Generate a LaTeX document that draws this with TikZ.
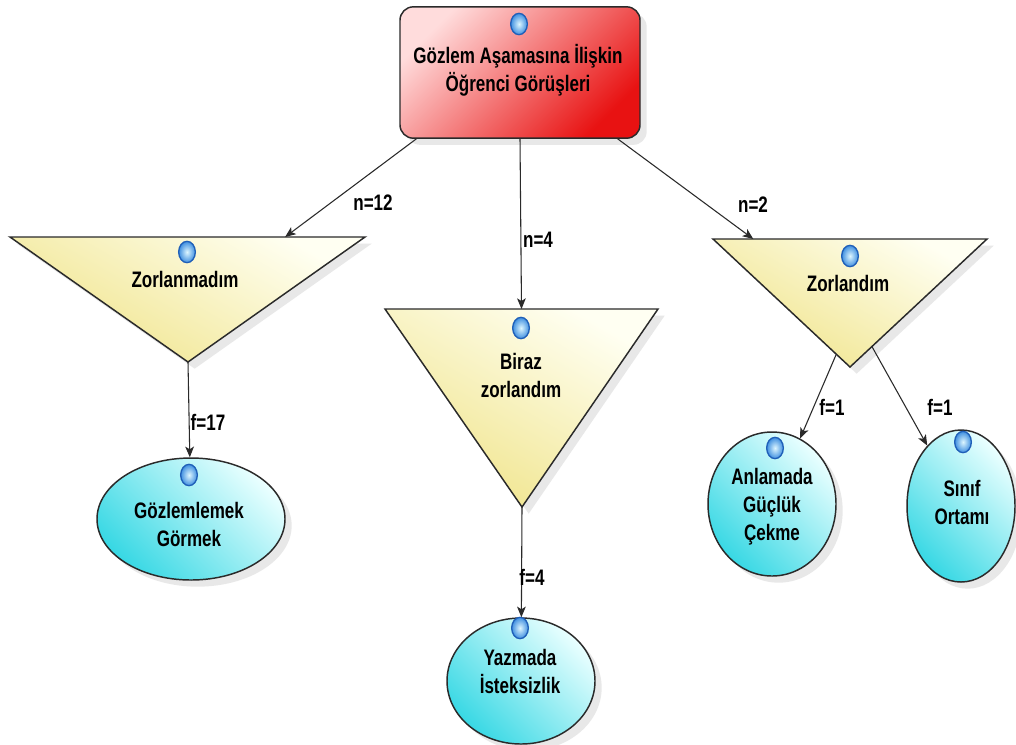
\documentclass[tikz,border=0pt]{standalone}
\usepackage{fontspec}
\setmainfont{Liberation Sans}[FakeStretch=0.76]
\usetikzlibrary{arrows.meta,shapes.geometric,shadows,calc}

\definecolor{boxlight}{HTML}{FFDCDC}
\definecolor{boxmid}{HTML}{F6A4A4}
\definecolor{boxdark}{HTML}{E81212}
\definecolor{trilight}{HTML}{FFFFF2}
\definecolor{tridark}{HTML}{F0E48A}
\definecolor{ovlight}{HTML}{EAFFFF}
\definecolor{ovdark}{HTML}{38D8E4}
\definecolor{edgeline}{HTML}{2A2A2A}
\definecolor{beadcore}{HTML}{DDF6FF}
\definecolor{beadouter}{HTML}{3F8FE0}
\definecolor{beadrim}{HTML}{1F5FB8}

\tikzset{
  softshadow/.style={drop shadow={shadow xshift=5pt, shadow yshift=-5pt,
      fill=black!35, opacity=0.25}},
  headbox/.style={draw=edgeline, line width=1.1pt, rounded corners=10pt,
      softshadow, top color=boxlight, middle color=boxmid,
      bottom color=boxdark, shading angle=45},
  tribody/.style={draw=edgeline, line width=1.1pt, line join=miter, softshadow,
      top color=trilight, bottom color=tridark, shading angle=-30},
  oval/.style={ellipse, draw=edgeline, line width=1.1pt, softshadow,
      top color=ovlight, bottom color=ovdark, shading angle=-45, inner sep=0pt},
  bead/.style={ellipse, draw=beadrim, line width=1pt, inner sep=0pt,
      minimum width=12.5pt, minimum height=16pt,
      inner color=beadcore, outer color=beadouter},
  caption/.style={align=center, inner sep=0pt, text=black},
  tag/.style={inner sep=0pt, text=black},
  link/.style={draw=edgeline, line width=0.8pt,
      -{Stealth[length=8pt,width=6.5pt,inset=2pt]}},
}

\begin{document}
\begin{tikzpicture}[x=0.75pt, y=-0.75pt,
    font=\bfseries\fontsize{16.8}{21}\selectfont]
  \fill[white] (0,0) rectangle (1016,744);
  \useasboundingbox (0,0) rectangle (1016,744);

  % head box
  \node[headbox, minimum width=180pt, minimum height=98.5pt] (top) at (520,72.5) {};
  \node[bead] (topdot) at (519,24) {};
  \node[caption] (toptxt) at (518,70) {Gözlem Aşamasına İlişkin\\Öğrenci Görüşleri};

  % triangle corners
  \coordinate (lA) at (10,237);
  \coordinate (lB) at (365,237);
  \coordinate (lC) at (188,362);
  \coordinate (mA) at (385,309);
  \coordinate (mB) at (658,309);
  \coordinate (mC) at (522,507);
  \coordinate (rA) at (713,239);
  \coordinate (rB) at (987,239);
  \coordinate (rC) at (850,367);

  \path[tribody] (lA) -- (lB) -- (lC) -- cycle;
  \path[tribody] (mA) -- (mB) -- (mC) -- cycle;
  \path[tribody] (rA) -- (rB) -- (rC) -- cycle;

  \node[bead] (ldot) at (187,252) {};
  \node[caption] (ltxt) at (185,279) {Zorlanmadım};
  \node[bead] (mdot) at (521,328) {};
  \node[caption] (mtxt) at (521,375) {Biraz\\zorlandım};
  \node[bead] (rdot) at (850,256) {};
  \node[caption] (rtxt) at (848,283) {Zorlandım};

  % leaf ovals
  \node[oval, minimum width=141pt, minimum height=91.5pt] (goz) at (191,519) {};
  \node[bead] (gozdot) at (189,475) {};
  \node[caption] (goztxt) at (189,524) {Gözlemlemek\\Görmek};

  \node[oval, minimum width=111pt, minimum height=94.5pt] (yaz) at (521,681) {};
  \node[bead] (yazdot) at (520,628) {};
  \node[caption] (yaztxt) at (520,671) {Yazmada\\İsteksizlik};

  \node[oval, minimum width=96pt, minimum height=108pt] (anl) at (772,504) {};
  \node[bead] (anldot) at (775,448) {};
  \node[caption] (anltxt) at (772,507) {Anlamada\\Güçlük\\Çekme};

  \node[oval, minimum width=81pt, minimum height=114pt] (sin) at (961,506) {};
  \node[bead] (sindot) at (963,442) {};
  \node[caption] (sintxt) at (962,502) {Sınıf\\Ortamı};

  % connectors
  \draw[link] ($(top.south west)+(17,0)$) -- ($(lA)!0.775!(lB)$);
  \draw[link] (top.south) -- ($(mA)!0.5!(mB)$);
  \draw[link] ($(top.south east)+(-23,0)$) -- ($(rA)!0.147!(rB)$);
  \draw[link] (lC) -- (goz);
  \draw[link] (mC) -- (yaz);
  \draw[link] ($(rA)!0.9!(rC)$) -- (anl);
  \draw[link] ($(rB)!0.84!(rC)$) -- (sin);

  % connector labels
  \node[tag] (n12) at (373,203) {n=12};
  \node[tag] (n4) at (538,240) {n=4};
  \node[tag] (n2) at (753,205) {n=2};
  \node[tag] (f17) at (208,422) {f=17};
  \node[tag] (f4) at (532,577) {f=4};
  \node[tag] (f1a) at (832,407) {f=1};
  \node[tag] (f1b) at (940,407) {f=1};
\end{tikzpicture}
\end{document}
